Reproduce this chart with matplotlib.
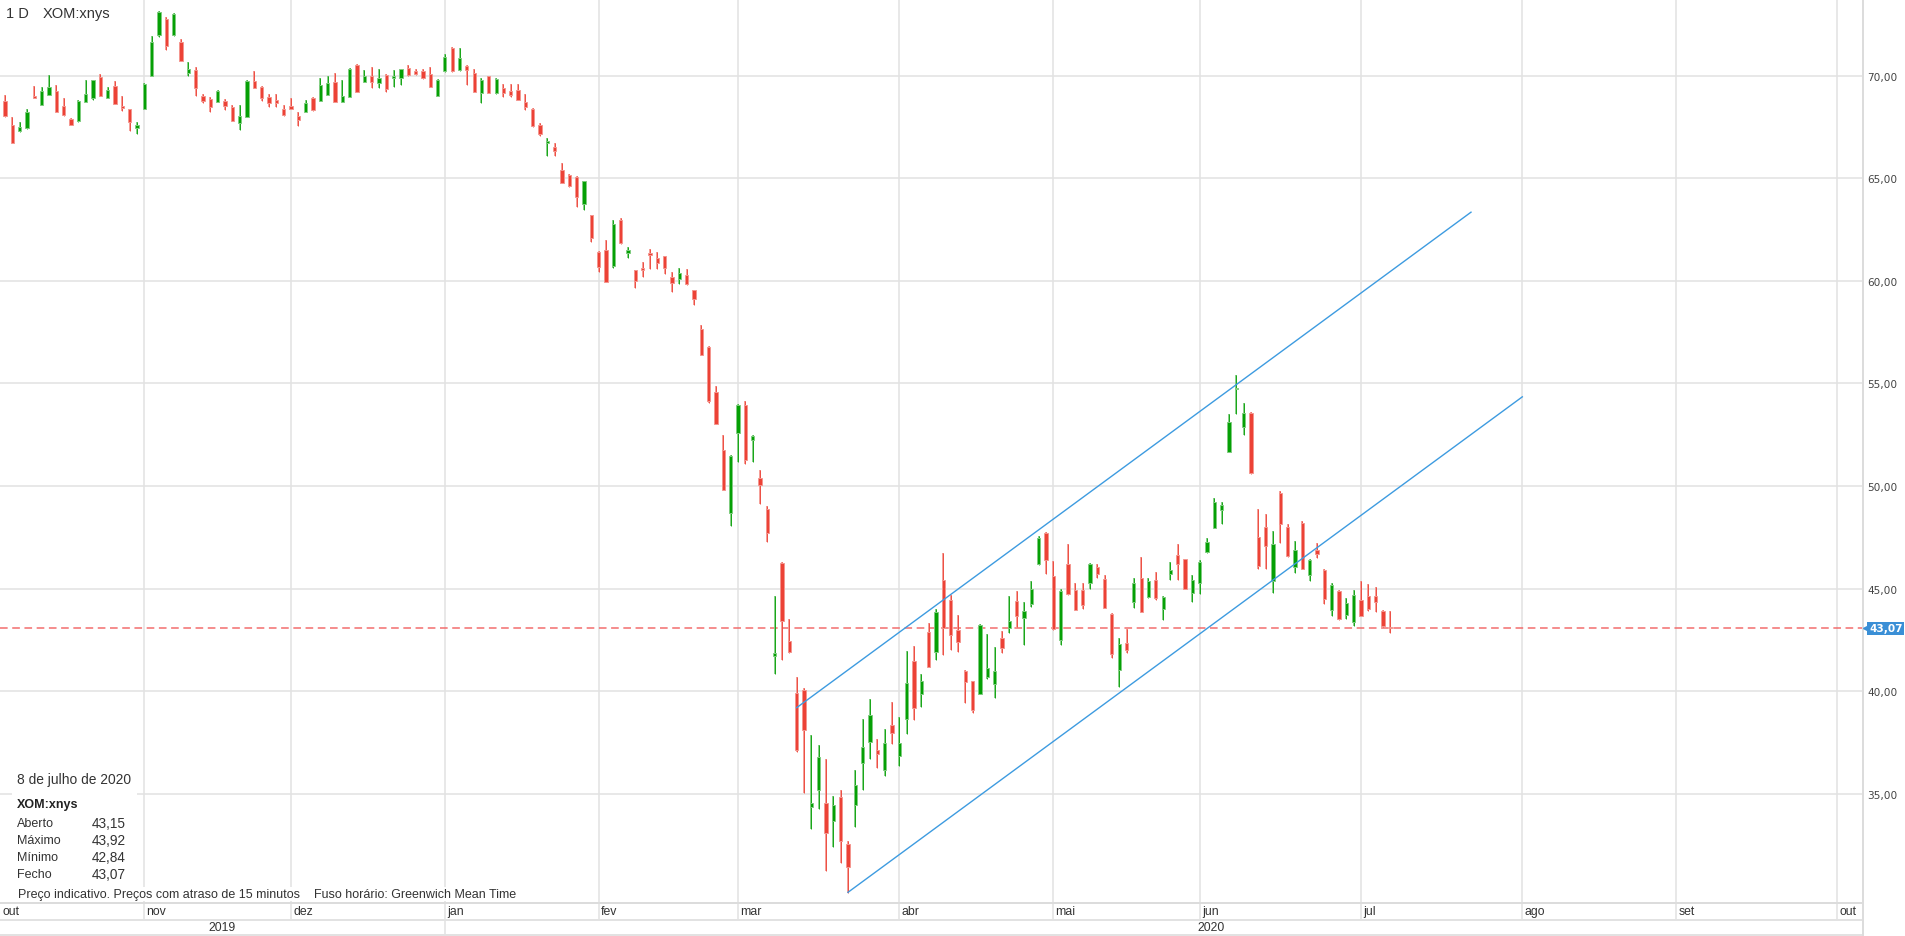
import matplotlib.pyplot as plt
import numpy as np
from matplotlib.patches import Rectangle

plt.rcParams["font.family"] = ["Liberation Sans", "DejaVu Sans"]

# XOM:xnys daily candles, one entry per trading day (4 Oct 2019 .. 8 Jul 2020)
opens = [68.05, 68.75, 67.60, 67.29, 67.44, 68.99, 68.59, 69.06, 69.24, 68.51,
         67.89, 67.78, 68.73, 68.91, 69.95, 68.90, 69.48, 68.51, 68.38, 67.44,
         68.38, 70.00, 71.98, 72.76, 71.98, 71.62, 70.13, 70.28, 69.03, 68.86,
         68.70, 68.75, 68.46, 67.69, 68.00, 69.76, 69.43, 68.94, 68.81, 68.38,
         68.51, 68.02, 68.21, 68.93, 68.78, 69.06, 69.68, 68.70, 68.94, 70.52,
         69.68, 70.00, 69.63, 70.03, 69.87, 69.87, 70.37, 70.21, 70.24, 70.08,
         68.99, 70.24, 71.35, 70.28, 70.49, 70.13, 69.14, 69.97, 69.17, 69.41,
         69.24, 69.30, 68.73, 68.37, 67.59, 66.72, 66.54, 65.43, 65.15, 65.07,
         63.77, 63.22, 61.41, 61.50, 60.73, 62.98, 61.38, 60.52, 60.65, 61.35,
         61.14, 61.19, 60.20, 60.11, 60.28, 59.54, 57.67, 56.80, 54.57, 51.77,
         48.67, 52.58, 53.95, 52.23, 50.41, 48.90, 41.70, 46.23, 42.43, 39.92,
         40.05, 34.38, 35.17, 34.57, 33.70, 34.83, 32.56, 34.44, 36.51, 37.54,
         37.15, 36.18, 38.35, 36.86, 38.67, 41.47, 39.85, 42.89, 41.93, 45.44,
         44.45, 42.97, 40.98, 40.50, 39.85, 40.69, 40.33, 42.58, 43.07, 44.40,
         43.55, 44.27, 46.19, 47.70, 45.62, 42.48, 46.22, 44.93, 44.93, 45.29,
         46.07, 45.46, 43.75, 41.02, 42.37, 44.37, 45.54, 44.59, 45.41, 43.99,
         45.70, 46.64, 46.43, 44.79, 45.29, 46.80, 47.94, 48.82, 51.66, 54.72,
         52.89, 53.57, 47.54, 48.03, 45.38, 49.64, 48.03, 46.08, 48.21, 45.66,
         46.90, 45.92, 43.98, 44.89, 43.74, 43.38, 44.44, 44.62, 44.62, 43.90,
         43.15]
highs = [69.10, 69.06, 67.97, 67.73, 68.38, 69.51, 69.43, 70.03, 69.55, 68.93,
         67.92, 68.83, 69.79, 69.80, 70.08, 69.46, 69.76, 69.03, 68.40, 67.73,
         69.64, 71.92, 73.15, 72.84, 73.05, 71.79, 70.65, 70.44, 69.11, 68.98,
         69.32, 68.86, 68.57, 68.57, 69.79, 70.23, 69.48, 69.11, 69.11, 68.57,
         68.93, 68.25, 68.83, 68.98, 69.90, 69.97, 70.13, 69.79, 70.40, 70.57,
         70.28, 70.41, 70.32, 70.08, 70.28, 70.35, 70.52, 70.32, 70.32, 70.45,
         69.84, 71.06, 71.40, 71.35, 70.52, 70.31, 69.89, 70.00, 69.90, 69.58,
         69.58, 69.58, 69.09, 68.44, 67.71, 66.96, 66.72, 65.74, 65.20, 65.12,
         64.88, 63.22, 61.45, 61.98, 62.98, 63.09, 61.67, 60.55, 60.94, 61.54,
         61.43, 61.22, 60.44, 60.65, 60.57, 59.57, 57.83, 56.85, 54.86, 52.50,
         51.50, 54.00, 54.17, 52.50, 50.76, 49.02, 44.64, 46.31, 43.54, 40.69,
         40.15, 37.88, 37.40, 36.72, 34.88, 35.17, 32.70, 36.18, 38.64, 39.61,
         37.69, 38.17, 39.47, 38.76, 41.96, 42.20, 40.82, 43.31, 44.02, 46.72,
         44.69, 43.72, 41.06, 40.50, 43.29, 42.77, 42.15, 42.93, 44.64, 44.89,
         44.35, 45.37, 47.57, 47.75, 46.35, 44.97, 47.16, 45.26, 45.26, 46.27,
         46.19, 45.67, 43.83, 42.58, 43.02, 45.54, 46.56, 45.54, 45.83, 44.64,
         46.30, 47.16, 46.45, 45.65, 46.40, 47.46, 49.41, 49.20, 53.49, 55.41,
         54.07, 53.60, 48.87, 48.66, 47.79, 49.75, 48.16, 47.34, 48.28, 46.45,
         47.23, 45.95, 45.30, 44.95, 44.56, 44.93, 45.38, 45.21, 45.08, 43.98,
         43.92]
lows = [67.86, 68.00, 66.70, 67.24, 67.42, 68.91, 68.59, 69.06, 68.21, 68.05,
        67.58, 67.75, 68.70, 68.83, 69.00, 68.90, 68.64, 68.26, 67.29, 67.18,
        68.38, 69.98, 71.87, 71.27, 71.95, 70.70, 69.97, 68.99, 68.65, 68.21,
        68.70, 68.33, 67.81, 67.37, 67.98, 69.38, 68.78, 68.46, 68.46, 68.02,
        68.38, 67.53, 68.21, 68.30, 68.78, 69.05, 68.70, 68.70, 68.94, 69.19,
        69.68, 69.38, 69.38, 69.22, 69.43, 69.55, 69.97, 70.05, 69.84, 69.43,
        68.99, 70.20, 70.20, 70.25, 69.54, 69.19, 68.68, 69.14, 69.10, 68.94,
        68.94, 68.81, 68.34, 67.50, 67.04, 66.07, 66.07, 64.75, 64.60, 63.58,
        63.46, 61.92, 60.41, 59.93, 60.65, 61.80, 61.14, 59.67, 60.21, 60.60,
        60.60, 60.36, 59.46, 59.84, 59.79, 58.81, 56.40, 54.05, 53.03, 49.80,
        48.05, 51.19, 51.09, 51.19, 49.11, 47.27, 40.83, 41.50, 41.85, 37.05,
        35.02, 33.28, 34.24, 31.24, 32.41, 31.63, 30.18, 33.37, 35.21, 36.72,
        36.28, 35.89, 37.44, 36.37, 37.94, 38.58, 39.23, 41.20, 41.50, 41.76,
        42.01, 41.93, 39.44, 38.92, 39.85, 40.58, 39.65, 41.85, 42.82, 43.15,
        42.24, 44.11, 46.15, 45.73, 43.00, 42.25, 44.67, 43.94, 43.99, 44.97,
        45.54, 44.07, 41.60, 40.22, 41.88, 44.04, 43.88, 44.56, 44.43, 43.46,
        45.42, 45.41, 44.97, 44.37, 44.76, 46.72, 47.94, 48.14, 51.66, 53.49,
        52.51, 50.60, 45.95, 45.95, 44.77, 47.23, 46.52, 45.75, 45.95, 45.38,
        46.49, 44.23, 43.66, 43.49, 43.54, 43.16, 43.66, 43.93, 43.87, 43.11,
        42.84]
closes = [69.07, 68.05, 66.70, 67.48, 68.25, 68.93, 69.24, 69.43, 68.21, 68.10,
          67.60, 68.77, 69.11, 69.79, 69.03, 69.32, 68.64, 68.41, 67.73, 67.60,
          69.59, 71.66, 73.12, 71.46, 73.00, 70.73, 70.32, 69.38, 68.75, 68.46,
          69.25, 68.51, 67.81, 68.05, 69.76, 69.38, 68.90, 68.67, 68.67, 68.08,
          68.38, 67.86, 68.67, 68.33, 69.55, 69.64, 68.73, 68.99, 70.32, 69.19,
          70.00, 69.68, 69.89, 69.35, 69.97, 70.32, 70.03, 70.08, 69.87, 69.43,
          69.79, 70.93, 70.24, 70.86, 70.28, 69.19, 69.79, 69.14, 69.84, 69.15,
          69.06, 68.81, 68.49, 67.53, 67.15, 66.78, 66.31, 64.75, 64.63, 64.11,
          64.85, 62.11, 60.70, 59.95, 62.76, 61.84, 61.50, 60.00, 60.54, 61.25,
          60.89, 60.65, 59.89, 60.37, 59.84, 59.14, 56.41, 54.13, 53.03, 49.83,
          51.46, 53.94, 51.28, 52.44, 50.06, 47.70, 41.85, 43.44, 41.93, 37.15,
          38.12, 34.54, 36.82, 33.08, 34.44, 32.70, 31.44, 35.41, 37.30, 38.83,
          36.96, 37.50, 37.98, 37.50, 40.38, 39.16, 40.50, 41.20, 43.86, 43.10,
          42.74, 42.41, 40.46, 39.07, 43.23, 41.15, 40.98, 42.12, 43.42, 43.67,
          43.91, 44.97, 47.46, 46.40, 43.05, 44.89, 44.76, 43.94, 44.20, 46.19,
          45.70, 44.07, 41.83, 42.32, 41.99, 45.29, 43.88, 45.37, 44.53, 44.59,
          45.91, 46.19, 44.97, 45.42, 46.30, 47.29, 49.20, 49.08, 53.11, 54.80,
          53.57, 50.62, 46.11, 47.10, 47.18, 48.16, 46.57, 46.90, 45.95, 46.41,
          46.69, 44.48, 45.18, 43.54, 44.31, 44.69, 43.66, 44.03, 44.36, 43.16,
          43.07]

# first trading day of each month, as candle index
month_pos = [20, 40, 61, 82, 101, 123, 144, 164, 186, 208, 229, 251]
month_labels = ['nov', 'dez', 'jan', 'fev', 'mar', 'abr', 'mai', 'jun', 'jul', 'ago', 'set', 'out']
price_ticks = [35, 40, 45, 50, 55, 60, 65, 70]

# drawn trend channel (candle index, price)
channel_upper_x = [109, 201]
channel_upper_y = [39.2, 63.35]
channel_lower_x = [116, 208]
channel_lower_y = [30.2, 54.35]

GREEN = '#05a005'
GREEN_EDGE = '#7fcc7f'
RED = '#ec4236'
RED_EDGE = '#f4968f'
BLUE = '#3d9be0'
GRID = '#e2e2e2'
TXT = '#333333'

W, H = 1905, 937
def fx(px):
    return px / W
def fy(py):
    return 1 - py / H

fig = plt.figure(figsize=(W / 100, H / 100), dpi=100)
ax = fig.add_axes([0, fy(904), fx(1863), 904 / H])

x = np.arange(len(opens))
o, hi, lo, c = map(np.array, (opens, highs, lows, closes))
up = c >= o
cols = np.where(up, GREEN, RED)
edges = np.where(up, GREEN_EDGE, RED_EDGE)

ax.vlines(x, lo, hi, colors=edges, lw=1.3, zorder=3)
ax.vlines(x, lo, hi, colors=cols, lw=0.6, zorder=3)
ax.bar(x, np.maximum(np.abs(c - o), 0.08), bottom=np.minimum(o, c), width=0.45,
       color=cols, edgecolor=edges, linewidth=0.7, zorder=4)

# channel lines
ax.plot(channel_upper_x, channel_upper_y, color=BLUE, lw=1.0, zorder=5)
ax.plot(channel_lower_x, channel_lower_y, color=BLUE, lw=1.0, zorder=5)

# last price line
last = closes[-1]
ax.axhline(last, color='#f26d6d', lw=1.1, linestyle=(0, (5, 3)), zorder=2)

ax.set_xlim(0.31, 254.48)
ax.set_ylim(29.68, 73.74)

ax.set_xticks(month_pos)
ax.set_yticks(price_ticks)
ax.set_yticklabels([f'{v:.2f}'.replace('.', ',') for v in price_ticks],
                   family='DejaVu Sans')
ax.yaxis.tick_right()
ax.tick_params(axis='y', length=0, pad=3, labelsize=7.6, labelcolor='#444444')
ax.tick_params(axis='x', length=0, labelbottom=False)
ax.grid(True, color=GRID, lw=1.1)
ax.set_axisbelow(True)

for s in ['top', 'left']:
    ax.spines[s].set_visible(False)
for s in ['right', 'bottom']:
    ax.spines[s].set_color('#dcdcdc')
    ax.spines[s].set_linewidth(1.4)

# month and year rows under the chart
trans = ax.get_xaxis_transform()
r1 = -17 / 904
r2 = -32 / 904
x0, x1 = ax.get_xlim()
for p, lab in zip(month_pos, month_labels):
    ax.plot([p, p], [0, r1], transform=trans, color=GRID, lw=1.1, clip_on=False)
    ax.text(p + 0.3, r1 / 2, lab, transform=trans, ha='left', va='center',
            fontsize=8.8, color=TXT)
ax.text(x0 + 0.3, r1 / 2, 'out', transform=trans, ha='left', va='center',
        fontsize=8.8, color=TXT)
ax.plot([x0, x1], [r1, r1], transform=trans, color=GRID, lw=1.4, clip_on=False)
ax.plot([x0, x1], [r2, r2], transform=trans, color=GRID, lw=1.4, clip_on=False)
ax.plot([61, 61], [r1, r2], transform=trans, color=GRID, lw=1.1, clip_on=False)
ax.plot([1, 1], [0, r2], transform=ax.transAxes, color='#dcdcdc', lw=1.4, clip_on=False)
ax.text((x0 + 61) / 2, (r1 + r2) / 2, '2019', transform=trans, ha='center',
        va='center', fontsize=8.8, color=TXT)
ax.text(165.5, (r1 + r2) / 2, '2020', transform=trans, ha='center',
        va='center', fontsize=8.8, color=TXT)

# last price tag
ytr = ax.get_yaxis_transform()
ax.plot(1 + 3 / 1863, last, marker='<', ms=5, color='#3a8fd6', transform=ytr,
        clip_on=False, zorder=6)
ax.text(1 + 6 / 1863, last, f'{last:.2f}'.replace('.', ','), transform=ytr,
        ha='left', va='center', fontsize=7.6, color='white', fontweight='bold',
        family='DejaVu Sans',
        bbox=dict(boxstyle='square,pad=0.15', fc='#3a8fd6', ec='none'))

# header
fig.text(fx(6), fy(14), '1 D', ha='left', va='center', fontsize=10.5, color=TXT)
fig.text(fx(43), fy(14), 'XOM:xnys', ha='left', va='center', fontsize=10.5, color=TXT)

# info panel
fig.add_artist(Rectangle((fx(12), fy(885)), fx(137) - fx(12), (885 - 766) / H,
                         transform=fig.transFigure, fc='white', ec='none', zorder=7))
fig.text(fx(17), fy(780), '8 de julho de 2020', ha='left', va='center',
         fontsize=9.9, color=TXT, zorder=8)
fig.text(fx(17), fy(805), 'XOM:xnys', ha='left', va='center', fontsize=9,
         color='#222222', fontweight='bold', zorder=8)
info_rows = ['Aberto', 'Máximo', 'Mínimo', 'Fecho']
info_vals = [opens[-1], highs[-1], lows[-1], closes[-1]]
for i, (lab, v) in enumerate(zip(info_rows, info_vals)):
    yy = 824 + i * 17
    fig.text(fx(17), fy(yy), lab, ha='left', va='center', fontsize=9, color=TXT, zorder=8)
    fig.text(fx(92), fy(yy), f'{v:.2f}'.replace('.', ','), ha='left', va='center',
             fontsize=9.8, color=TXT, zorder=8)
fig.text(fx(18), fy(895),
         'Preço indicativo. Preços com atraso de 15 minutos    Fuso horário: Greenwich Mean Time',
         ha='left', va='center', fontsize=9, color=TXT, zorder=8,
         bbox=dict(boxstyle='square,pad=0.05', fc='white', ec='none'))

fig.savefig('out.png', dpi=100)
plt.close()
